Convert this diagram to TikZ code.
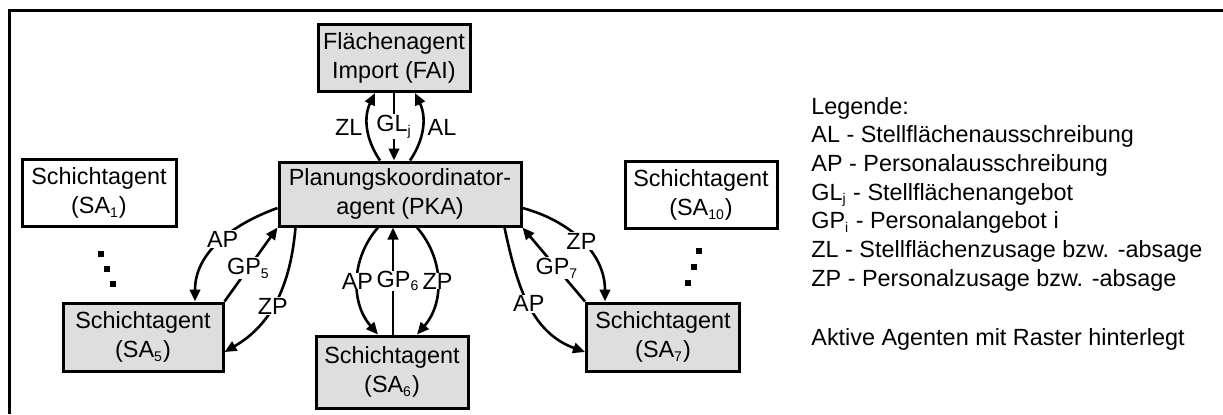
\documentclass[tikz,border=0pt]{standalone}
\usepackage{fontspec}
\setmainfont{Liberation Sans}
\usetikzlibrary{arrows.meta,calc}
\newcommand{\idx}[1]{\textsubscript{\fontsize{7}{8}\selectfont #1}}

\begin{document}
\begin{tikzpicture}[x=.5pt,y=.5pt,
  font=\fontsize{11.7}{14.35}\selectfont,
  agent/.style={draw,line width=1.5pt,align=center,inner sep=0pt,minimum width=76pt,minimum height=33.5pt},
  aktiv/.style={agent,fill=black!13},
  msg/.style={line width=1.3pt,-{Triangle[length=6pt,width=5.2pt]}},
  lbl/.style={fill=white,inner sep=.5pt}]
\useasboundingbox (0,0) rectangle (1223,-414);
\draw[line width=1.5pt] (9,-414) -- (9,-10) -- (1223,-10);
\node[aktiv] (fai) at (394,-58) {Flächenagent\\Import (FAI)};
\node[aktiv,minimum width=121pt,minimum height=32pt] (pka) at (400,-194) {Planungskoordinator-\\agent (PKA)};
\node[agent,minimum width=77pt] (sa1) at (99,-193) {Schichtagent\\(SA\idx{1})};
\node[agent] (sa10) at (701,-195) {Schichtagent\\(SA\idx{10})};
\node[aktiv,minimum width=80pt,minimum height=34pt] (sa5) at (143,-337) {Schichtagent\\(SA\idx{5})};
\node[aktiv,minimum height=36pt] (sa6) at (392,-372) {Schichtagent\\(SA\idx{6})};
\node[aktiv,minimum width=76.5pt,minimum height=34pt] (sa7) at (663,-337) {Schichtagent\\(SA\idx{7})};
\draw[msg] ($(pka.north)+(-20,0)$) to[bend left=30] node[left,inner sep=2pt] {ZL} ($(fai.south)+(-19,0)$);
\draw[msg] ($(pka.north)+(10,0)$) to[bend right=30] node[right,inner sep=2pt] {AL} ($(fai.south)+(21,0)$);
\draw[msg] (fai.south) -- (fai.south |- pka.north) node[lbl,midway] {GL\idx{j}};
\draw[msg] ($(pka.south)+(-22,0)$) to[bend right=41] node[lbl,inner sep=0pt] {AP} ($(sa6.north)+(-14,0)$);
\draw[msg] ($(sa6.north)+(1,0)$) -- ($(sa6.north |- pka.south)+(1,0)$) node[lbl,midway,xshift=2.5pt,inner sep=0pt] {GP\idx{6}};
\draw[msg] ($(pka.south)+(17,0)$) to[bend left=41] node[lbl,inner sep=0pt] {ZP} ($(sa6.north)+(25,0)$);
\draw[msg] ($(pka.west)+(0,-14)$) to[out=200,in=90] node[lbl,pos=.46] {AP} ($(sa5.north)+(52,0)$);
\draw[msg] (sa5.north east) -- (pka.south west) node[lbl,pos=.45] {GP\idx{5}};
\draw[msg] ($(pka.south west)+(18,0)$) to[out=-95,in=30] node[lbl,pos=.55] {ZP} ($(sa5.east)+(0,-15)$);
\draw[msg] ($(pka.east)+(0,-14)$) to[out=-15,in=90] node[lbl,pos=.5] {ZP} ($(sa7.north)+(-58,0)$);
\draw[msg] (sa7.north west) -- (pka.south east) node[lbl,pos=.45] {GP\idx{7}};
\draw[msg] ($(pka.south east)+(-18,0)$) to[out=-78,in=160] node[lbl,pos=.5] {AP} ($(sa7.west)+(0,-15)$);
\foreach \p in {(101,-254),(107,-269),(113,-284),(699,-251),(694,-267),(688,-283)}
  \fill \p +(-2.7,-2.7) rectangle +(2.7,2.7);
\foreach \txt [count=\i from 0] in {Legende:,AL - Stellflächenausschreibung,AP - Personalausschreibung,GL\idx{j} - Stellflächenangebot,GP\idx{i} - Personalangebot i,ZL - Stellflächenzusage bzw. -absage,ZP - Personalzusage bzw. -absage}
  \node[anchor=base west,inner sep=0pt] (leg\i) at (811,-114-28.7*\i) {\txt};
\node[anchor=base west,inner sep=0pt] (hinweis) at (811,-345) {Aktive Agenten mit Raster hinterlegt};
\end{tikzpicture}
\end{document}
